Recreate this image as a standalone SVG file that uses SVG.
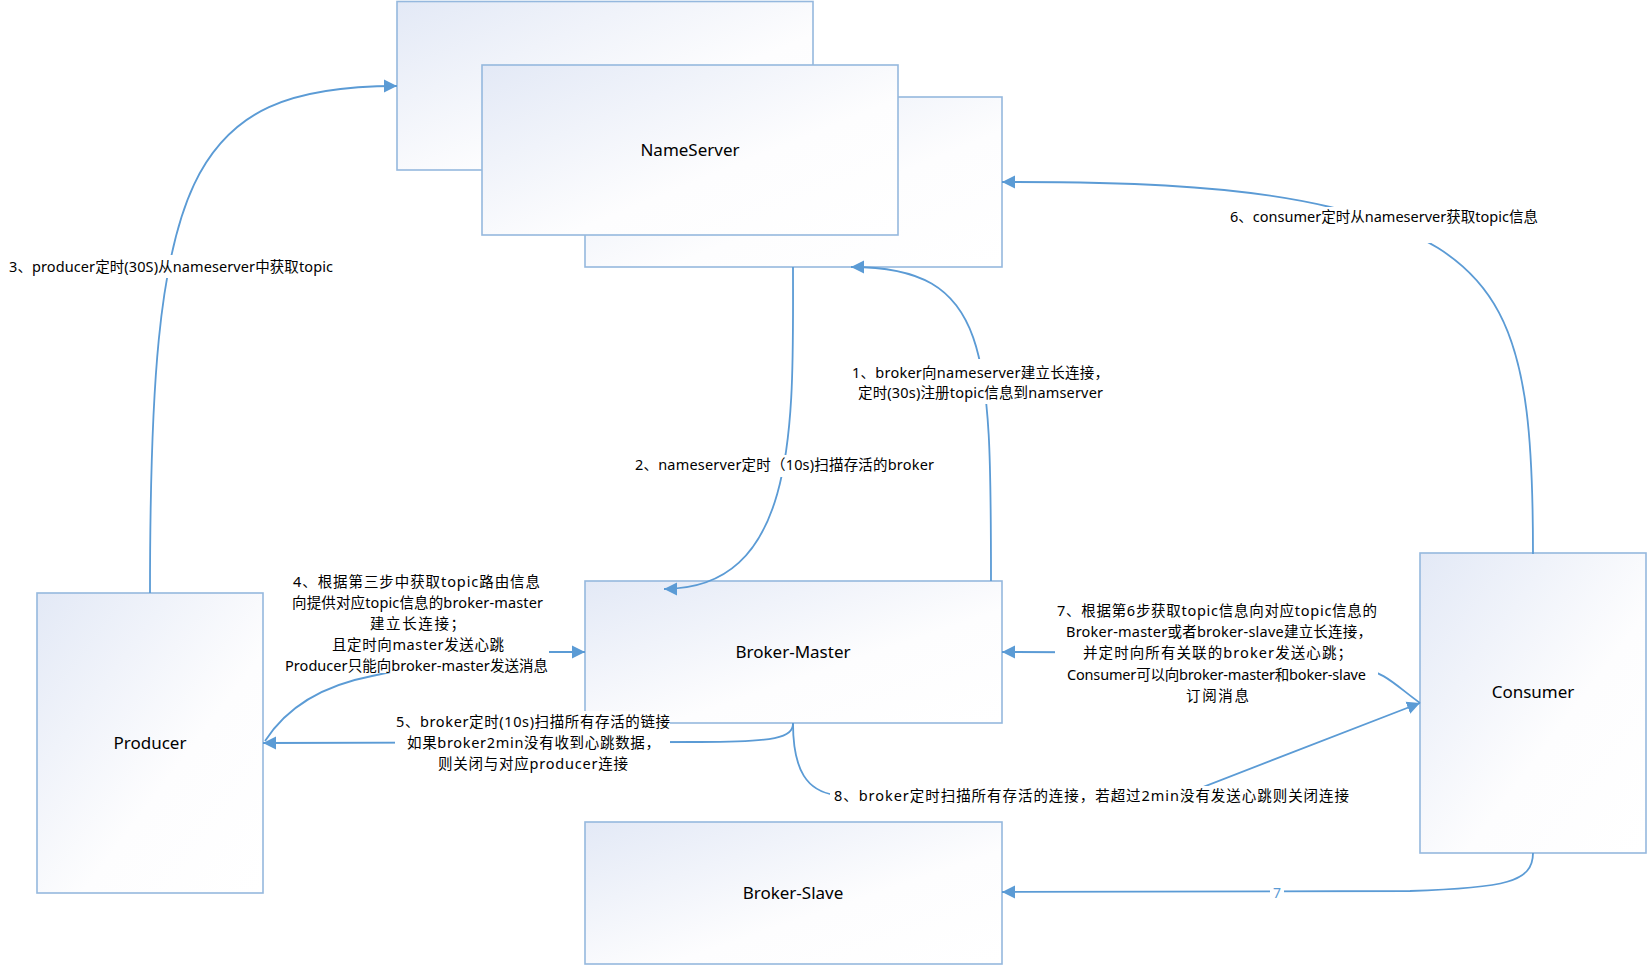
<svg xmlns="http://www.w3.org/2000/svg" width="1648" height="965" viewBox="0 0 1648 965">
<style>
.box{fill:url(#g);stroke:#95b8de;stroke-width:1.6}
.nl{font-family:"Noto Sans","Noto Sans CJK SC",sans-serif;font-size:17px;fill:#000;text-anchor:middle}
.c{fill:none;stroke:#5b9bd5;stroke-width:1.8;marker-end:url(#arr)}
.bg{fill:#fff}
.lt{font-family:"Noto Sans","Noto Sans CJK SC",sans-serif;font-size:14.5px;fill:#000}
.bl{fill:#5b9bd5;text-anchor:middle;font-size:14px}
</style>
<defs>
<linearGradient id="g" x1="0" y1="0" x2="1" y2="1">
<stop offset="0" stop-color="#e3e9f6"/>
<stop offset="0.6" stop-color="#fdfdfe"/>
<stop offset="1" stop-color="#ffffff"/>
</linearGradient>
<marker id="arr" markerUnits="userSpaceOnUse" markerWidth="14" markerHeight="14" viewBox="0 0 14 14" refX="13" refY="7" orient="auto">
<path d="M0,0.5 L13,7 L0,13.5 z" fill="#5b9bd5"/>
</marker>
</defs>
<rect width="1648" height="965" fill="#fff"/>

<g id="nameserver">
<rect class="box" x="397" y="1.5" width="416" height="168.5"/>
<rect class="box" x="585" y="97" width="417" height="170"/>
<rect class="box" x="482" y="65" width="416" height="170"/>
<text class="nl" x="690" y="156">NameServer</text>
</g>
<g id="producer">
<rect class="box" x="37" y="593" width="226" height="300"/>
<text class="nl" x="150" y="749">Producer</text>
</g>
<g id="consumer">
<rect class="box" x="1420" y="553" width="226" height="300"/>
<text class="nl" x="1533" y="698">Consumer</text>
</g>
<g id="broker-master">
<rect class="box" x="585" y="581" width="417" height="142"/>
<text class="nl" x="793" y="658">Broker-Master</text>
</g>
<g id="broker-slave">
<rect class="box" x="585" y="822" width="417" height="142"/>
<text class="nl" x="793" y="899">Broker-Slave</text>
</g>

<g id="connectors">
<path class="c" d="M150,593 C150,180 185,86 397,86"/>
<path class="c" d="M991,581 C991,350 990,267 851,267"/>
<path class="c" d="M793,267 C793,420 800,589 664,589"/>
<path class="c" d="M1533,554 C1533,330 1510,250 1330,207 C1230,183 1100,182 1002,182"/>
<path class="c" d="M265,741 C285,710 320,686 372,676 L400,670 L549,652 L585,652"/>
<path class="c" d="M793,723 C793,738 775,742 700,742 L263,743"/>
<path class="c" d="M1420,703 C1395,685 1385,672 1360,668 C1250,655 1150,652 1002,652"/>
<path class="c" d="M793,723 C793,772 808,791 835,795 L1190,792 L1420,703"/>
<path class="c" d="M1533,853 C1533,882 1505,888 1410,891 L1002,892"/>
</g>

<g id="labels">
<g id="label-3">
<rect class="bg" x="6" y="255" width="330" height="23"/>
<text class="lt" x="9" y="272" textLength="324" lengthAdjust="spacing">3、producer定时(30S)从nameserver中获取topic</text>
</g>
<g id="label-1">
<rect class="bg" x="848" y="359" width="260" height="45"/>
<text class="lt" x="852" y="378" textLength="257" lengthAdjust="spacing">1、broker向nameserver建立长连接，</text>
<text class="lt" x="858" y="398" textLength="245" lengthAdjust="spacing">定时(30s)注册topic信息到namserver</text>
</g>
<g id="label-2">
<rect class="bg" x="630" y="455" width="308" height="22"/>
<text class="lt" x="635" y="470" textLength="299" lengthAdjust="spacing">2、nameserver定时（10s)扫描存活的broker</text>
</g>
<g id="label-6">
<rect class="bg" x="1226" y="207" width="316" height="36"/>
<text class="lt" x="1230" y="222" textLength="308" lengthAdjust="spacing">6、consumer定时从nameserver获取topic信息</text>
</g>
<g id="label-4">
<rect class="bg" x="283" y="568" width="266" height="105"/>
<text class="lt" x="293" y="586.5" textLength="247" lengthAdjust="spacing">4、根据第三步中获取topic路由信息</text>
<text class="lt" x="292" y="607.7" textLength="251" lengthAdjust="spacing">向提供对应topic信息的broker-master</text>
<text class="lt" x="370" y="628.9" textLength="95" lengthAdjust="spacing">建立长连接；</text>
<text class="lt" x="332" y="650.1" textLength="172" lengthAdjust="spacing">且定时向master发送心跳</text>
<text class="lt" x="285" y="671.3" textLength="263" lengthAdjust="spacing">Producer只能向broker-master发送消息</text>
</g>
<g id="label-5">
<rect class="bg" x="395" y="711" width="275" height="65"/>
<text class="lt" x="396" y="727" textLength="274" lengthAdjust="spacing">5、broker定时(10s)扫描所有存活的链接</text>
<text class="lt" x="407" y="748" textLength="253" lengthAdjust="spacing">如果broker2min没有收到心跳数据，</text>
<text class="lt" x="438" y="769" textLength="190" lengthAdjust="spacing">则关闭与对应producer连接</text>
</g>
<g id="label-7">
<rect class="bg" x="1055" y="598" width="323" height="109"/>
<text class="lt" x="1057" y="616" textLength="320" lengthAdjust="spacing">7、根据第6步获取topic信息向对应topic信息的</text>
<text class="lt" x="1066" y="637" textLength="306" lengthAdjust="spacing">Broker-master或者broker-slave建立长连接，</text>
<text class="lt" x="1083" y="658" textLength="269" lengthAdjust="spacing">并定时向所有关联的broker发送心跳；</text>
<text class="lt" x="1067" y="680" textLength="299" lengthAdjust="spacing">Consumer可以向broker-master和boker-slave</text>
<text class="lt" x="1186" y="701" textLength="63" lengthAdjust="spacing">订阅消息</text>
</g>
<g id="label-8">
<rect class="bg" x="830" y="786" width="522" height="20"/>
<text class="lt" x="834" y="801" textLength="515" lengthAdjust="spacing">8、broker定时扫描所有存活的连接，若超过2min没有发送心跳则关闭连接</text>
</g>
<g id="label-7b">
<rect class="bg" x="1270" y="884" width="14" height="18"/>
<text class="lt bl" x="1277" y="898">7</text>
</g>
</g>
</svg>
